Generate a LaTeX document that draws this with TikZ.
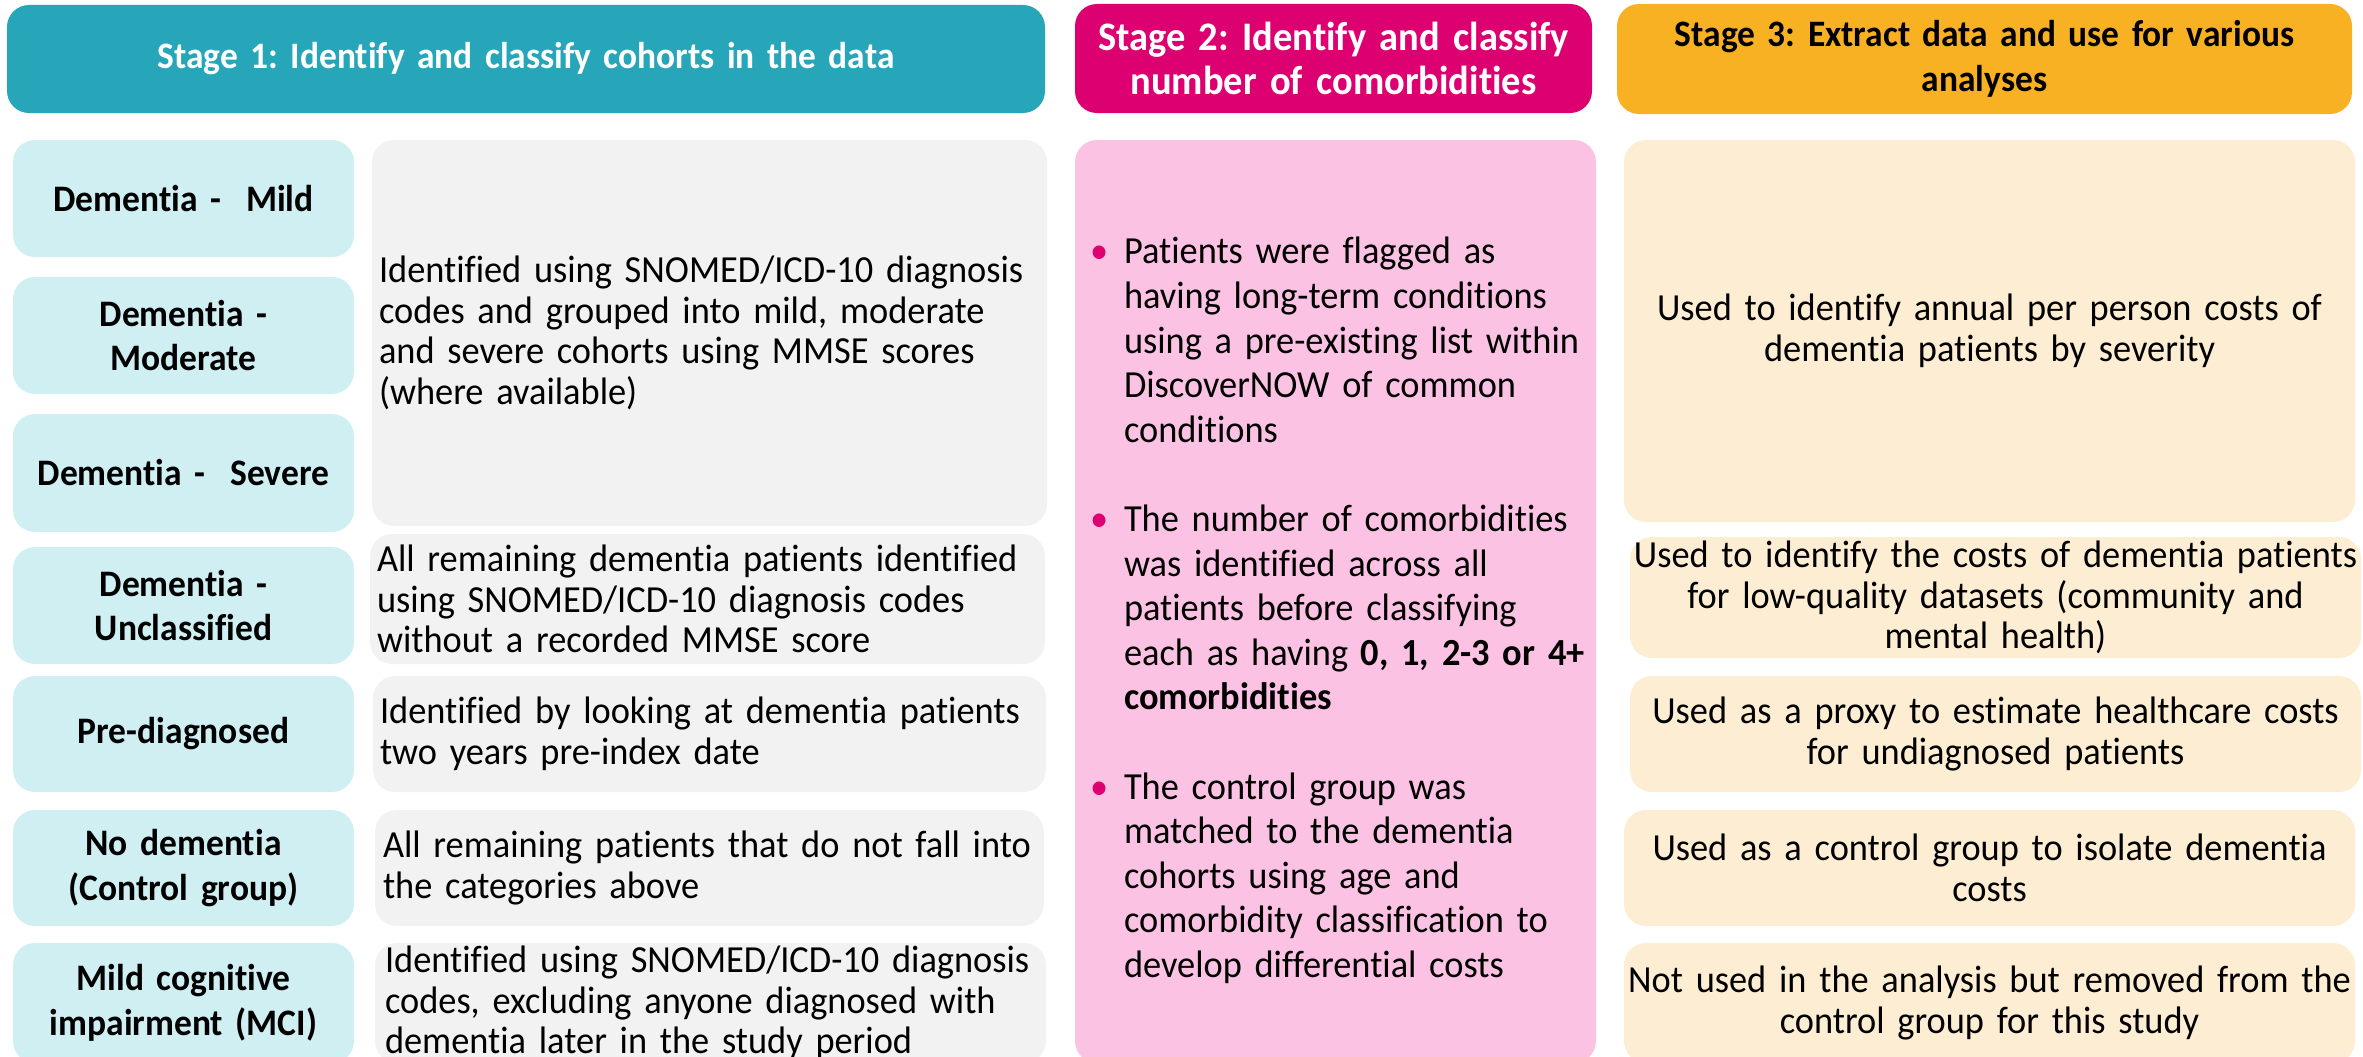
\documentclass[tikz,border=0pt]{standalone}
\usepackage{fontspec}
\setmainfont{Carlito}[Ligatures=NoCommon, FakeStretch=0.95]
\frenchspacing
\definecolor{tealhead}{HTML}{27A5B9}
\definecolor{maghead}{HTML}{DC0070}
\definecolor{orangehead}{HTML}{F9B124}
\definecolor{cohortfill}{HTML}{CFEFF3}
\definecolor{descfill}{HTML}{F2F2F2}
\definecolor{pinkfill}{HTML}{FCC2E3}
\definecolor{creamfill}{HTML}{FDEDD3}

% \cell{name}{x1}{y1}{x2}{y2}{style}{inset}{text}
\newcommand\cell[8]{%
  \node[#6, minimum width={(#4)-(#2)}, minimum height={(#5)-(#3)},
        text width={(#4)-(#2)-2*(#7)}, inner xsep=#7]
    (#1) at ({((#2)+(#4))/2},{((#3)+(#5))/2}) {#8};}
% lines are broken by hand; let them run past the right margin instead of wrapping
\newcommand\handbroken{\rightskip=-60pt plus 1fil\relax}
\newcommand\bulletpar{\par\hangindent=34pt\hangafter=0\noindent
  \llap{\makebox[34pt][l]{\color{maghead}\textbullet}}}

\begin{document}
\begin{tikzpicture}[x=1pt,y=-1pt,
  card/.style={rounded corners=22pt, inner ysep=0pt, outer sep=0pt},
  header/.style={card, align=center, font=\fontsize{37.3}{44.6}\selectfont\bfseries},
  cohort/.style={card, fill=cohortfill, align=center, font=\fontsize{37.4}{44.6}\selectfont\bfseries},
  desc/.style={card, fill=descfill, align=left, font=\fontsize{38.3}{40.5}\selectfont},
  usage/.style={card, fill=creamfill, align=center, font=\fontsize{38.3}{40.5}\selectfont},
  bullets/.style={card, fill=pinkfill, align=left, font=\fontsize{38.3}{44.6}\selectfont},
]
\useasboundingbox (0,0) rectangle (2363,1057);
\clip (0,0) rectangle (2363,1057);

% stage headers
\cell{h1}{7}{5}{1045}{113}{header, fill=tealhead, text=white}{0}{Stage 1: Identify and classify cohorts in the data}
\cell{h2}{1075}{4}{1592}{113}{header, fill=maghead, text=white, font=\fontsize{40.5}{44.6}\selectfont\bfseries}{0}{Stage 2: Identify and classify\\number of comorbidities}
\cell{h3}{1617}{4}{2352}{114}{header, fill=orangehead, text=black}{0}{Stage 3: Extract data and use for various\\analyses}

% stage 1: cohort labels
\cell{c1}{13}{140}{354}{257}{cohort}{0}{Dementia -\ \ Mild}
\cell{c2}{13}{277}{354}{394}{cohort}{0}{Dementia -\\Moderate}
\cell{c3}{13}{414}{354}{532}{cohort}{0}{Dementia -\ \ Severe}
\cell{c4}{13}{547}{354}{664}{cohort}{0}{Dementia -\\Unclassified}
\cell{c5}{13}{676}{354}{792}{cohort}{0}{Pre-diagnosed}
\cell{c6}{13}{810}{354}{926}{cohort}{0}{No dementia\\(Control group)}
\cell{c7}{13}{943}{354}{1063}{cohort}{0}{Mild cognitive\\impairment (MCI)}

% stage 1: cohort definitions
\cell{d1}{372}{140}{1047}{526}{desc}{7}{\handbroken Identified using SNOMED/ICD-10 diagnosis\\codes and grouped into mild, moderate\\and severe cohorts using MMSE scores\\(where available)}
\cell{d4}{370}{534}{1045}{664}{desc}{7}{\handbroken All remaining dementia patients identified\\using SNOMED/ICD-10 diagnosis codes\\without a recorded MMSE score}
\cell{d5}{373}{676}{1046}{792}{desc}{7}{\handbroken Identified by looking at dementia patients\\two years pre-index date}
\cell{d6}{375}{810}{1044}{926}{desc}{8}{\handbroken All remaining patients that do not fall into\\the categories above}
\cell{d7}{375}{943}{1046}{1063}{desc}{10}{\handbroken Identified using SNOMED/ICD-10 diagnosis\\codes, excluding anyone diagnosed with\\dementia later in the study period}

% stage 2: comorbidity classification
\cell{s2}{1075}{140}{1596}{1063}{bullets}{15}{\handbroken
  \bulletpar Patients were flagged as\newline having long-term conditions\newline using a pre-existing list within\newline DiscoverNOW of common\newline conditions\par
  \vspace{\baselineskip}
  \bulletpar The number of comorbidities\newline was identified across all\newline patients before classifying\newline each as having \textbf{0, 1, 2-3 or 4+}\newline \textbf{comorbidities}\par
  \vspace{\baselineskip}
  \bulletpar The control group was\newline matched to the dementia\newline cohorts using age and\newline comorbidity classification to\newline develop differential costs\par}

% stage 3: use of the extracted data
\cell{u1}{1624}{140}{2355}{522}{usage}{0}{Used to identify annual per person costs of\\dementia patients by severity}
\cell{u4}{1630}{537}{2361}{658}{usage}{0}{Used to identify the costs of dementia patients\\for low-quality datasets (community and\\mental health)}
\cell{u5}{1630}{676}{2361}{792}{usage}{0}{Used as a proxy to estimate healthcare costs\\for undiagnosed patients}
\cell{u6}{1624}{810}{2355}{926}{usage}{0}{Used as a control group to isolate dementia\\costs}
\cell{u7}{1624}{943}{2355}{1063}{usage}{0}{Not used in the analysis but removed from the\\control group for this study}
\end{tikzpicture}
\end{document}
